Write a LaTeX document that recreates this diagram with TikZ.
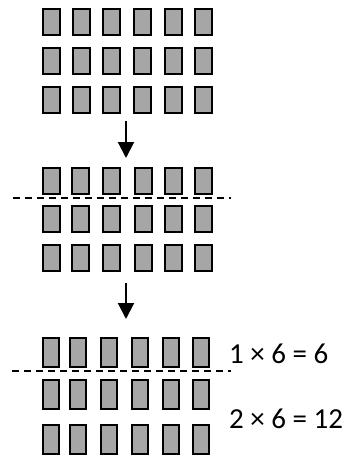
\documentclass[tikz,border=0pt]{standalone}
\usepackage{fontspec}
\setmainfont{Carlito}
\usetikzlibrary{arrows.meta}
\begin{document}
\begin{tikzpicture}[x=1pt,y=-1pt,
  blk/.style={draw=black,line width=2pt,fill=gray!70,inner sep=0pt,minimum width=16.5pt,minimum height=25.5pt,anchor=north west},
  blkb/.style={blk,minimum width=16pt,minimum height=28.5pt},
  cut/.style={dash pattern=on 7pt off 5pt,line width=1.2pt},
  down/.style={line width=2pt,-{Triangle[width=16pt,length=16pt]}},
  lab/.style={anchor=west,inner sep=0pt,font=\fontsize{29}{32}\selectfont}]
\useasboundingbox (0,0) rectangle (348,456);
% section 1
\foreach \r/\y in {1/8,2/47,3/86}{
  \foreach \c/\x in {1/42,2/72,3/102,4/133,5/164,6/194}{
    \node[blk] (a\r\c) at (\x,\y) {};
  }
}
% section 2
\foreach \r/\y in {1/167,2/205,3/244}{
  \foreach \c/\x in {1/42,2/71,3/102,4/134,5/164,6/194}{
    \node[blk] (b\r\c) at (\x,\y) {};
  }
}
% section 3
\foreach \r/\y in {1/337,2/379,3/424}{
  \foreach \c/\x in {1/42,2/69,3/100,4/131,5/162,6/192}{
    \node[blkb] (c\r\c) at (\x,\y) {};
  }
}
% arrows
\coordinate (s1) at (126,121);
\coordinate (e1) at (126,158);
\coordinate (s2) at (126,283);
\coordinate (e2) at (126,319);
\draw[down] (s1) -- (e1);
\draw[down] (s2) -- (e2);
% dashed cut lines
\coordinate (d1a) at (13,198);
\coordinate (d1b) at (231,198);
\coordinate (d2a) at (12,371);
\coordinate (d2b) at (231,371);
\draw[cut] (d1a) -- (d1b);
\draw[cut] (d2a) -- (d2b);
% labels
\node[lab] (t1) at (229,354) {1 × 6 = 6};
\node[lab] (t2) at (229,419) {2 × 6 = 12};
\end{tikzpicture}
\end{document}
